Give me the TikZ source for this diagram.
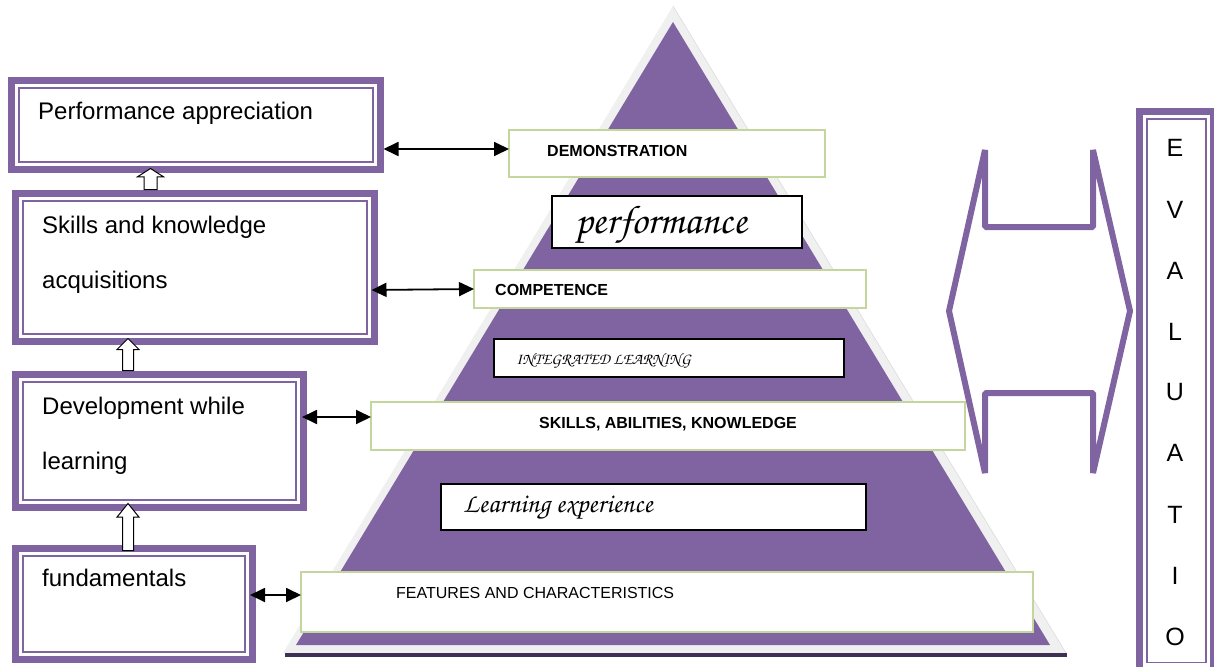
\documentclass[tikz,border=0pt]{standalone}
\usepackage{fontspec}
\setmainfont{Liberation Sans}
\newfontfamily\chorus{texgyrechorus-mediumitalic.otf}
\usetikzlibrary{arrows.meta,shapes.arrows,calc}
\definecolor{pur}{HTML}{8064A2}
\definecolor{grn}{HTML}{C3D69B}
\definecolor{lgray}{HTML}{F0F0F0}
\definecolor{lgrayd}{HTML}{DCDCDC}
\definecolor{dkp}{HTML}{3F3151}
\begin{document}
\begin{tikzpicture}[x=1pt,y=-1pt,
  lbox/.style={draw=pur,line width=7pt,fill=white,anchor=north west,inner sep=0pt,outer sep=0pt},
  gbox/.style={draw=grn,line width=2pt,fill=white,anchor=north west,inner sep=0pt,outer sep=0pt},
  kbox/.style={draw=black,line width=1.3pt,fill=white,anchor=north west,inner sep=0pt,outer sep=0pt},
  ltxt/.style={anchor=base west,inner sep=0pt,font=\fontsize{24}{28}\selectfont},
  btxt/.style={inner sep=0pt,font=\fontsize{16}{19}\selectfont\bfseries},
  ptxt/.style={anchor=base west,inner sep=0pt},
  etxt/.style={anchor=base,inner sep=0pt,font=\fontsize{25}{30}\selectfont},
  dbl/.style={line width=1.8pt,{Triangle[length=15pt,width=14pt]}-{Triangle[length=15pt,width=14pt]}},
  uparr/.style={single arrow,draw=black,fill=white,line width=1pt,rotate=90,anchor=tail}
]
\useasboundingbox (0,0) rectangle (1214,666);
% pyramid
\fill[lgray] (673,6) -- (1066,653) -- (283,653) -- cycle;
\draw[lgrayd,line width=0.6pt] (673,6) -- (1066,653);
\fill[dkp] (285,653) rectangle (1067,657);
\fill[pur] (673,22) -- (1050,645) -- (296,645) -- cycle;
% pyramid boxes
\node[gbox,minimum width=316pt,minimum height=47pt] (demo) at (509,130) {};
\node[kbox,minimum width=250pt,minimum height=52pt] (perf) at (552,196) {};
\node[gbox,minimum width=392pt,minimum height=38pt] (comp) at (474,270) {};
\node[kbox,minimum width=350pt,minimum height=38pt] (integ) at (494,339) {};
\node[gbox,minimum width=594pt,minimum height=48pt] (skills) at (371,402) {};
\node[kbox,minimum width=425pt,minimum height=46pt] (learn) at (441,484) {};
\node[gbox,minimum width=732pt,minimum height=60pt] (feat) at (301,572) {};
\node[btxt,anchor=base west] (tdemo) at (547,156) {DEMONSTRATION};
\node[ptxt,font=\fontsize{40}{44}\chorus] (tperf) at (575,233) {performance};
\node[btxt,anchor=base west] (tcomp) at (495,295) {COMPETENCE};
\node[ptxt,font=\fontsize{16}{19}\chorus] (tinteg) at (516,364) {INTEGRATED LEARNING};
\node[ptxt,font=\fontsize{27}{30}\chorus] (tlearn) at (463,512) {Learning experience};
\node[btxt,anchor=base] (tskills) at (668,428) {SKILLS, ABILITIES, KNOWLEDGE};
\node[ptxt,font=\fontsize{16}{19}\selectfont] (tfeat) at (396,598) {FEATURES AND CHARACTERISTICS};
% left boxes
\node[lbox,minimum width=369pt,minimum height=89pt] (pa) at (11.5,80.5) {};
\node[lbox,minimum width=359pt,minimum height=148pt] (sk) at (15.5,193.5) {};
\node[lbox,minimum width=288pt,minimum height=133pt] (dv) at (15.5,374.5) {};
\node[lbox,minimum width=237pt,minimum height=111pt] (fu) at (15.5,548.5) {};
\node[lbox,minimum width=74pt,minimum height=558.5pt] (ev) at (1139.5,111.5) {};
\foreach \b in {pa,sk,dv,fu,ev}
  \draw[pur,line width=1.5pt] ([shift={(7.5,7.5)}]\b.north west) rectangle ([shift={(-7.5,-7.5)}]\b.south east);
\node[ltxt] (tpa) at (38,120) {Performance appreciation};
\node[ltxt] (tsk1) at (42,233) {Skills and knowledge};
\node[ltxt] (tsk2) at (42,288) {acquisitions};
\node[ltxt] (tdv1) at (42,414) {Development while};
\node[ltxt] (tdv2) at (42,469) {learning};
\node[ltxt] (tfu) at (42,586) {fundamentals};
% evaluation letters
\foreach \l/\yy [count=\i] in {E/156,V/218,A/279,L/340,U/400,A/461,T/523,I/584,O/645}
  \node[etxt] (ev\i) at (1175,\yy) {\l};
% double arrows
\draw[dbl] ($(pa.east |- demo.west)+(3,-4.5)$) -- ($(demo.west)+(0,-4.5)$);
\draw[dbl] ($(sk.east |- comp.west)+(-3,1)$) -- (comp.west);
\draw[dbl] ($(dv.east |- skills.west)+(-1.5,-9)$) -- ($(skills.west)+(0,-9)$);
\draw[dbl] ($(fu.east |- feat.west)+(-2.5,-7)$) -- ($(feat.west)+(0,-7)$);
% block arrows
\node[uparr,inner xsep=0pt,inner ysep=6pt,single arrow head extend=6.5pt,single arrow tip angle=115,minimum height=21pt] (u1) at ($(sk.north west)+(135,-3.5)$) {};
\node[uparr,inner xsep=0pt,inner ysep=5pt,single arrow head extend=5.5pt,single arrow tip angle=90,minimum height=32pt] (u2) at ($(dv.north west)+(112.5,-3.5)$) {};
\node[uparr,inner xsep=0pt,inner ysep=5pt,single arrow head extend=5.5pt,single arrow tip angle=78,minimum height=47pt] (u3) at ($(fu.north west)+(112.5,2.5)$) {};
% big double arrow
\draw[pur,line width=6pt,line join=bevel] (949,311) -- (985,150) -- (985,227) -- (1093,227) -- (1093,150) -- (1130,311) -- (1093,473) -- (1093,393) -- (985,393) -- (985,473) -- cycle;
\end{tikzpicture}
\end{document}
